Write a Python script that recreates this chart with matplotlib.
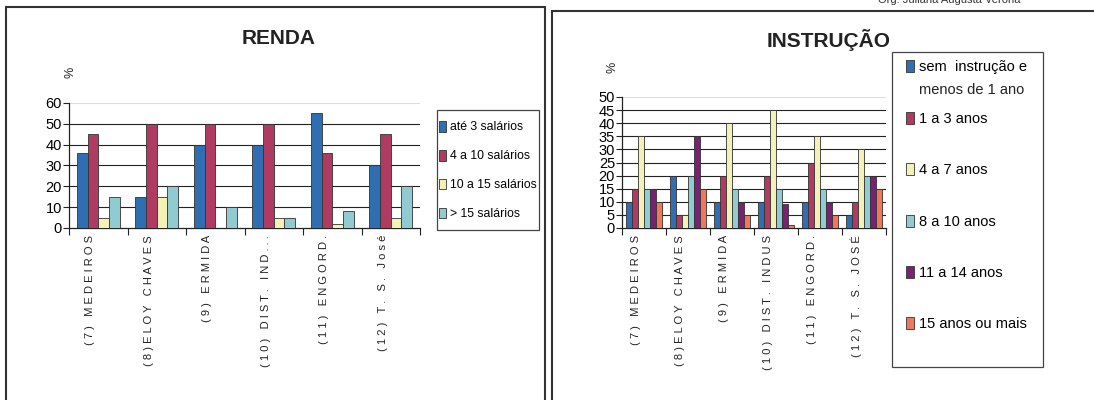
import matplotlib
matplotlib.use("Agg")
import matplotlib.pyplot as plt
import matplotlib.transforms as mtransforms
from matplotlib.patches import Rectangle, Patch
import numpy as np

plt.rcParams['font.family'] = ['Liberation Sans', 'DejaVu Sans']

# bairros (same order in both charts)
bairros_renda = ["(7) MEDEIROS", "(8)ELOY CHAVES", "(9) ERMIDA",
                 "(10) DIST. IND...", "(11) ENGORD.", "(12) T. S. José"]
bairros_instr = ["(7) MEDEIROS", "(8)ELOY CHAVES", "(9) ERMIDA",
                 "(10) DIST. INDUS", "(11) ENGORD.", "(12) T. S. JOSÉ"]

# renda (%)
renda_labels = ["até 3 salários", "4 a 10 salários", "10 a 15 salários", "> 15 salários"]
ate_3 = [36, 15, 40, 40, 55, 30]
de_4_a_10 = [45, 50, 50, 50, 36, 45]
de_10_a_15 = [5, 15, 0, 5, 2, 5]
mais_15 = [15, 20, 10, 5, 8, 20]

# instrucao (%)
instr_labels = ["sem  instrução e", "1 a 3 anos", "4 a 7 anos",
                "8 a 10 anos", "11 a 14 anos", "15 anos ou mais"]
instr_label_2nd_line = "menos de 1 ano"
sem_instr = [10, 20, 10, 10, 10, 5]
anos_1_3 = [15, 5, 20, 20, 25, 10]
anos_4_7 = [35, 5, 40, 45, 35, 30]
anos_8_10 = [15, 20, 15, 15, 15, 20]
anos_11_14 = [15, 35, 10, 9, 10, 20]
anos_15 = [10, 15, 5, 1, 5, 15]

renda_colors = ['#2f6eb1', '#b03b62', '#f3f1b5', '#8fcbd1']
instr_colors = ['#2f6eb1', '#b03b62', '#f3f1b5', '#8fcbd1', '#7b2173', '#f0775a']

W, H = 1094, 400
fig = plt.figure(figsize=(W / 100, H / 100), dpi=100)


def fx(px):
    return px / W


def fy(py):
    return 1 - py / H


def spaced(s):
    return " ".join(s)


def draw_bars(ax, series, colors, labels, group_frac, ymax, ystep):
    n = len(series)
    x = np.arange(len(labels))
    w = group_frac / n
    for i, (vals, c) in enumerate(zip(series, colors)):
        ax.bar(x - group_frac / 2 + w * (i + 0.5), vals, width=w, color=c,
               edgecolor='#333333', linewidth=0.6, zorder=3)
    ax.set_xlim(-0.5, len(labels) - 0.5)
    ax.set_ylim(0, ymax)
    yt = np.arange(0, ymax + 1, ystep)
    for y in yt[1:]:
        ax.axhline(y, color='#dddddd' if y == ymax else '#222222', lw=0.8, zorder=1)
    ax.set_yticks(yt)
    ax.tick_params(axis='y', length=4, width=0.8, color='#222222', pad=1,
                   labelsize=10.5)
    # group separators as ticks, names centred below each group
    ax.set_xticks(np.arange(-0.5, len(labels)), labels=[''] * (len(labels) + 1))
    ax.tick_params(axis='x', which='major', length=5, width=0.8, color='#222222')
    ax.set_xticks(x, labels=[spaced(l) for l in labels], minor=True)
    ax.tick_params(axis='x', which='minor', length=0, pad=5)
    offset = mtransforms.ScaledTranslation(-0.08, 0, fig.dpi_scale_trans)
    for t in ax.get_xticklabels(minor=True):
        t.set_rotation(90)
        t.set_va('top')
        t.set_ha('center')
        t.set_fontsize(8)
        t.set_color('#222222')
        t.set_transform(t.get_transform() + offset)
    for s in ['top', 'right']:
        ax.spines[s].set_visible(False)
    for s in ['left', 'bottom']:
        ax.spines[s].set_color('#222222')
        ax.spines[s].set_linewidth(0.9)


# panel frames
fig.add_artist(Rectangle((fx(6), fy(412)), fx(545 - 6), fy(7) - fy(412),
                         transform=fig.transFigure, fill=False,
                         edgecolor='#333333', lw=1.5))
fig.add_artist(Rectangle((fx(552), fy(412)), fx(560), fy(11) - fy(412),
                         transform=fig.transFigure, fill=False,
                         edgecolor='#333333', lw=1.5))
fig.text(fx(878), fy(3), "Org: Juliana Augusta Verona", fontsize=8,
         color='#333333', va='baseline')

# RENDA
ax1 = fig.add_axes([fx(69), fy(228), fx(420 - 69), fy(103) - fy(228)])
draw_bars(ax1, [ate_3, de_4_a_10, de_10_a_15, mais_15], renda_colors,
          bairros_renda, 0.73, 60, 10)
fig.text(fx(279), fy(39), "RENDA", fontsize=15, weight='bold',
         ha='center', va='center', color='#222222')
fig.text(fx(71), fy(72), "%", fontsize=9, rotation=90,
         ha='center', va='center', color='#222222')

fig.add_artist(Rectangle((fx(437), fy(230)), fx(539 - 437), fy(110) - fy(230),
                         transform=fig.transFigure, fill=False,
                         edgecolor='#444444', lw=0.9))
h1 = [Patch(facecolor=c, edgecolor='#333333', lw=0.6) for c in renda_colors]
fig.legend(h1, renda_labels, loc='upper left',
           bbox_to_anchor=(fx(439), fy(121)), bbox_transform=fig.transFigure,
           frameon=False, fontsize=8.8, borderaxespad=0, borderpad=0,
           labelspacing=1.35, handlelength=0.6, handleheight=0.95,
           handletextpad=0.3)

# INSTRUCAO
ax2 = fig.add_axes([fx(622), fy(228), fx(886 - 622), fy(97) - fy(228)])
draw_bars(ax2, [sem_instr, anos_1_3, anos_4_7, anos_8_10, anos_11_14, anos_15],
          instr_colors, bairros_instr, 0.8, 50, 5)
fig.text(fx(829), fy(40), "INSTRUÇÃO", fontsize=15, weight='bold',
         ha='center', va='center', color='#222222')
fig.text(fx(613), fy(67), "%", fontsize=9, rotation=90,
         ha='center', va='center', color='#222222')

fig.add_artist(Rectangle((fx(892), fy(367)), fx(1043 - 892), fy(52) - fy(367),
                         transform=fig.transFigure, fill=False,
                         edgecolor='#444444', lw=0.9))
h2 = [Patch(facecolor=c, edgecolor='#333333', lw=0.6) for c in instr_colors]
leg_opts = dict(loc='upper left', bbox_transform=fig.transFigure, frameon=False,
                fontsize=10.5, borderaxespad=0, borderpad=0, handlelength=0.55,
                handleheight=0.9, handletextpad=0.35)
# first entry is two lines, the rest are evenly spaced below it
fig.legend(h2[:1], instr_labels[:1], bbox_to_anchor=(fx(906), fy(60)), **leg_opts)
fig.text(fx(972), fy(90), instr_label_2nd_line, fontsize=10.5,
         ha='center', va='center', color='#222222')
fig.legend(h2[1:], instr_labels[1:], bbox_to_anchor=(fx(906), fy(112)),
           labelspacing=2.55, **leg_opts)

fig.savefig("out.png", dpi=100)
